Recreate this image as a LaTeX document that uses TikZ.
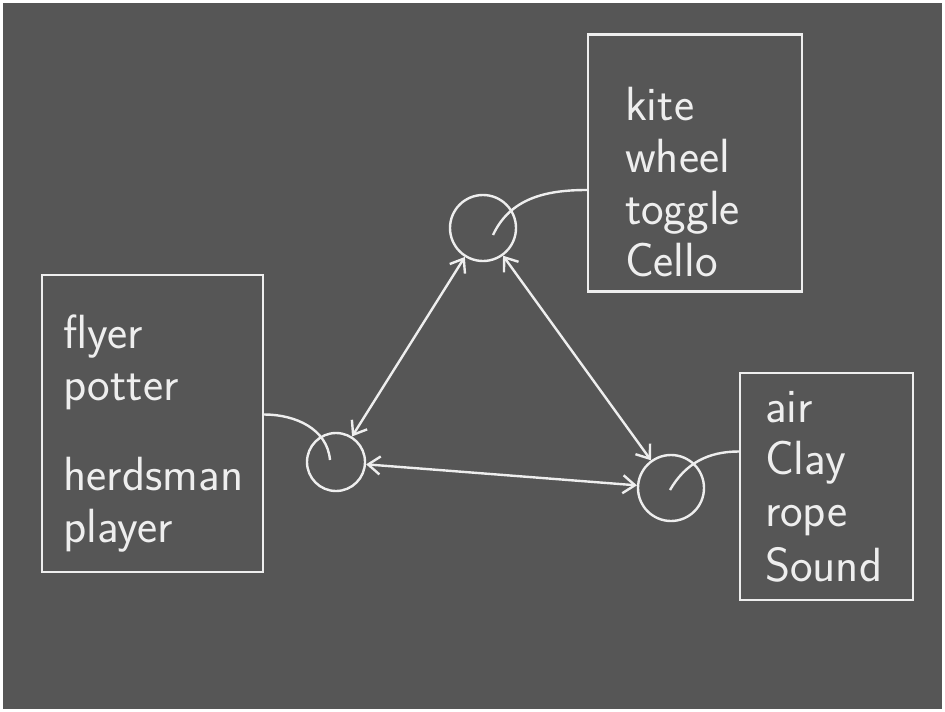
\documentclass[tikz,border=0pt]{standalone}
\usepackage{tikz}
\usetikzlibrary{arrows.meta}
\definecolor{board}{RGB}{86,86,86}
\definecolor{chalk}{RGB}{238,238,238}

\begin{document}
\begin{tikzpicture}[x=1pt,y=1pt,line width=2.4pt,draw=chalk,text=chalk,
            >={Straight Barb[length=12pt,width=18pt]},
            word box/.style={rectangle,draw,align=left,inner ysep=0pt,
            font=\sffamily\fontsize{48}{52}\selectfont},
            ring/.style={circle,draw,inner sep=0pt}]

    \fill[white] (0,0) rectangle (945,-712);
    \fill[board] (3,-3) rectangle (942,-709);

    \node[word box,text width=140pt,inner xsep=37pt,minimum height=257pt] (KiteList) at (695,-163)
        {\rule{0pt}{72pt}kite\\wheel\\toggle\\Cello};
    \node[word box,text width=178pt,inner xsep=21.5pt,minimum height=297pt] (FlyerList) at (152.5,-423.5)
        {\rule{0pt}{54pt}flyer\\potter\\[38pt]herdsman\\player};
    \node[word box,text width=123pt,inner xsep=25pt,minimum height=227pt] (AirList) at (826.5,-486.5)
        {air\\Clay\\rope\\[3pt]Sound};

    \node[ring,minimum size=66pt] (TopCircle) at (483,-228) {};
    \node[ring,minimum size=58pt] (LeftCircle) at (336,-462) {};
    \node[ring,minimum size=66pt] (RightCircle) at (671,-488) {};

    \draw [<->] (TopCircle) -- (LeftCircle);
    \draw [<->] (TopCircle) -- (RightCircle);
    \draw [<->] (LeftCircle) -- (RightCircle);

    \draw ([yshift=-27pt]KiteList.west) to [out=180,in=65] ([shift={(10,-7)}]TopCircle.center);
    \draw ([yshift=9pt]FlyerList.east) to [out=0,in=95] ([shift={(-6,2)}]LeftCircle.center);
    \draw ([yshift=35pt]AirList.west) to [out=180,in=60] ([shift={(-1,-2)}]RightCircle.center);
\end{tikzpicture}
\end{document}
